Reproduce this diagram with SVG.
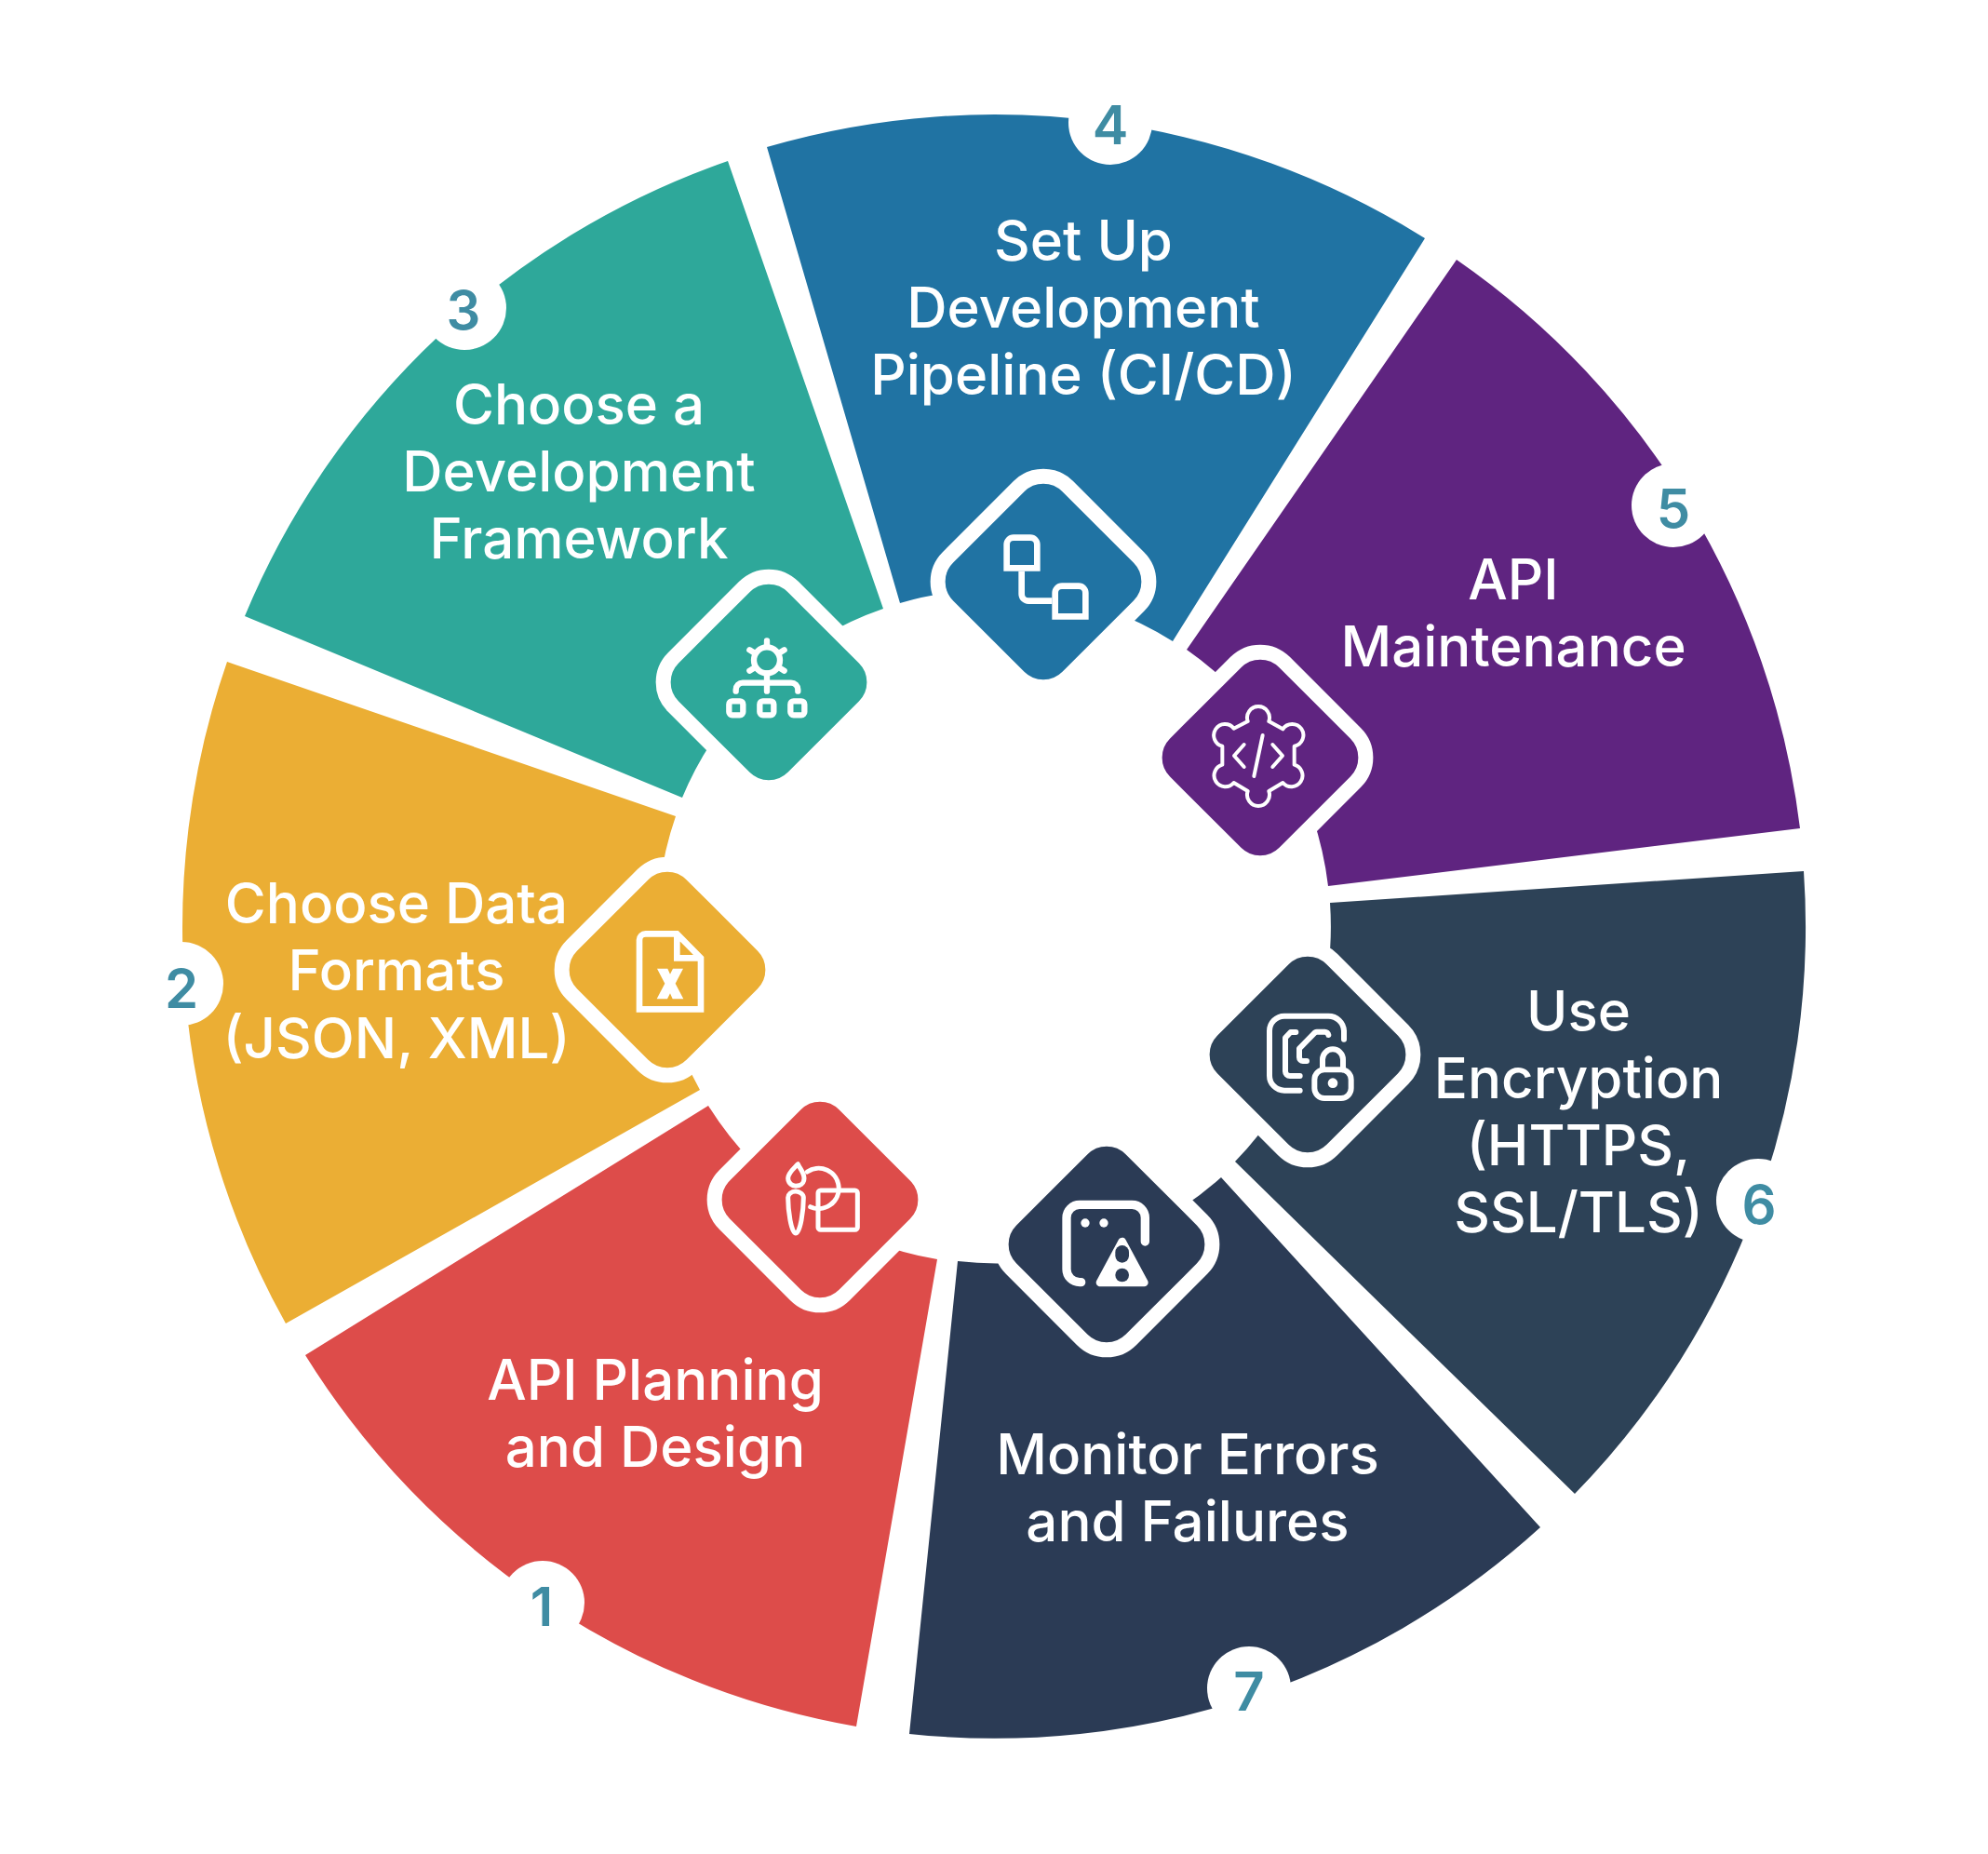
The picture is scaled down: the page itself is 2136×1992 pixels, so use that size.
<svg xmlns="http://www.w3.org/2000/svg" width="2136" height="1992" viewBox="0 0 2136 1992">
<style>
.lbl{font-family:Inter,"Open Sans","Liberation Sans",sans-serif;font-size:60px;font-weight:450;fill:#fff;text-anchor:middle}
.ctr{font-size:62px}
.num{font-family:Inter,"Open Sans","Liberation Sans",sans-serif;font-size:58px;font-weight:600;fill:#3F8CA3;text-anchor:middle}
.badge{fill:#fff}
.dia{stroke:#fff;stroke-width:16}
.ic{fill:none;stroke:#fff;stroke-linecap:round;stroke-linejoin:round}
</style>
<defs><rect id="d" x="-91" y="-91" width="182" height="182" rx="37" transform="rotate(45)"/></defs>
<rect width="2136" height="1992" fill="#fff"/>
<g id="connectors"/>
<g id="center">
<text class="lbl ctr" x="1085" y="945">API</text>
<text class="lbl ctr" x="1085" y="1023">Development</text>
</g>
<g id="node-1">
<path d="M328 1456A872 872 0 0 0 920 1855L1007 1353A361 361 0 0 1 761 1188Z" fill="#DD4C4A"/>
<use href="#d" x="881" y="1289" fill="#DD4C4A" class="dia"/>
<g transform="translate(740 1160) scale(.33333)" class="ic" stroke-width="15">
<path d="M352 272C340 285 320 300 320 318C320 335 335 343 345 343C358 343 372 335 372 318C372 300 360 290 352 272Z"/>
<path d="M345 360C330 360 320 370 320 380C320 420 330 495 345 495C360 495 370 420 370 380C370 370 358 360 345 360Z"/>
<path d="M382 297A65 65 0 1 1 392 410"/>
<rect x="417" y="357" width="127" height="127" rx="8"/>
</g>
<circle class="badge" cx="583" cy="1722" r="45"/>
<text class="num" x="582" y="1747">1</text>
<text class="lbl" x="704" y="1504">API Planning</text>
<text class="lbl" x="704" y="1576">and Design</text>
</g>
<g id="node-2">
<path d="M244 711A872 872 0 0 0 307 1422L752 1171A361 361 0 0 1 726 877Z" fill="#EBAE34"/>
<use href="#d" x="717" y="1042" fill="#EBAE34" class="dia"/>
<g transform="translate(580 900) scale(.33333)">
<path d="M321 553V330A20 20 0 0 1 341 310H442L519 388V553ZM442 310V388H519" fill="none" stroke="#fff" stroke-width="20"/>
<path d="M378 422H412L420 440L429 422H462L437 470L463 520H428L420 502L411 520H377L403 470Z" fill="#fff"/>
</g>
<circle class="badge" cx="195" cy="1057" r="45"/>
<text class="num" x="195" y="1083">2</text>
<text class="lbl" x="426" y="992">Choose Data</text>
<text class="lbl" x="426" y="1064">Formats</text>
<text class="lbl" x="426" y="1137">(JSON, XML)</text>
</g>
<g id="node-3">
<path d="M263 662A872 872 0 0 1 782 173L949 654A361 361 0 0 0 733 857Z" fill="#2EA89A"/>
<use href="#d" x="826" y="733" fill="#2EA89A" class="dia"/>
<g transform="translate(680 590) scale(.33333)" class="ic" stroke-width="19">
<circle cx="432" cy="358" r="42"/>
<path d="M432 295V310M376 325L388 332M488 325L476 332M376 392L388 385M488 392L476 385M432 400V458M332 458V453A22 22 0 0 1 354 431H510A22 22 0 0 1 532 453V458"/>
<rect x="310" y="490" width="45" height="45" rx="10"/>
<rect x="409" y="490" width="45" height="45" rx="10"/>
<rect x="508" y="490" width="45" height="45" rx="10"/>
</g>
<circle class="badge" cx="499" cy="331" r="45"/>
<text class="num" x="498" y="354">3</text>
<text class="lbl" x="622" y="456">Choose a</text>
<text class="lbl" x="622" y="528">Development</text>
<text class="lbl" x="622" y="600">Framework</text>
</g>
<g id="node-4">
<path d="M824 158A872 872 0 0 1 1531 256L1260 689A361 361 0 0 0 967 648Z" fill="#2073A3"/>
<use href="#d" x="1121" y="625" fill="#2073A3" class="dia"/>
<g transform="translate(980 490) scale(.33333)" class="ic" stroke-width="20">
<path d="M305 361V285A22 22 0 0 1 327 263H381A22 22 0 0 1 403 285V361Z" stroke-linejoin="miter"/>
<path d="M353 371V445A22 22 0 0 0 375 467H451" stroke-linecap="butt"/>
<path d="M461 517V441A22 22 0 0 1 483 419H537A22 22 0 0 1 559 441V517Z" stroke-linejoin="miter"/>
</g>
<circle class="badge" cx="1193" cy="132" r="45"/>
<text class="num" x="1193" y="155">4</text>
<text class="lbl" x="1164" y="280">Set Up</text>
<text class="lbl" x="1164" y="352">Development</text>
<text class="lbl" x="1164" y="424">Pipeline (CI/CD)</text>
</g>
<g id="node-5">
<path d="M1565 279A872 872 0 0 1 1934 890L1427 952A361 361 0 0 0 1275 698Z" fill="#5F2480"/>
<use href="#d" x="1354" y="814" fill="#5F2480" class="dia"/>
<g transform="translate(1220 680) scale(.33333)" class="ic" stroke-width="12">
<path d="M362 285A36 36 0 1 1 430 285L475 310A36 36 0 1 1 512 365V425A36 36 0 1 1 475 483L430 510A36 36 0 1 1 362 510L317 483A36 36 0 1 1 280 425V365A36 36 0 1 1 317 308Z"/>
<path d="M350 360L318 396L350 432M442 360L474 396L442 432M410 330L382 462"/>
</g>
<circle class="badge" cx="1798" cy="543" r="45"/>
<text class="num" x="1798" y="567">5</text>
<text class="lbl" x="1626" y="644">API</text>
<text class="lbl" x="1626" y="716">Maintenance</text>
</g>
<g id="node-6">
<path d="M1938 936A872 872 0 0 1 1692 1605L1327 1248A361 361 0 0 0 1429 970Z" fill="#2D4257"/>
<use href="#d" x="1405" y="1133" fill="#2D4257" class="dia"/>
<g transform="translate(1280 1000) scale(.33333)" class="ic" stroke-width="18">
<path d="M350 515H300A48 48 0 0 1 252 467V323A48 48 0 0 1 300 275H442A50 50 0 0 1 492 323V350"/>
<path d="M350 468H318A15 15 0 0 1 303 453V345L320 327H337"/>
<path d="M372 420H360A12 12 0 0 1 348 408V380L395 332A12 12 0 0 1 405 326H430A12 12 0 0 1 442 336"/>
<rect x="397" y="448" width="118" height="92" rx="32"/>
<path d="M423 448V415A33 33 0 0 1 489 415V448"/>
<circle cx="456" cy="491" r="16" fill="#fff" stroke="none"/>
</g>
<circle class="badge" cx="1889" cy="1290" r="45"/>
<text class="num" x="1890" y="1315">6</text>
<text class="lbl" x="1696" y="1108">Use</text>
<text class="lbl" x="1696" y="1180">Encryption</text>
<text class="lbl" x="1696" y="1252">(HTTPS,</text>
<text class="lbl" x="1696" y="1324">SSL/TLS)</text>
</g>
<g id="node-7">
<path d="M1655 1641A872 872 0 0 1 977 1863L1029 1355A361 361 0 0 0 1312 1265Z" fill="#2B3B55"/>
<use href="#d" x="1189" y="1337" fill="#2B3B55" class="dia"/>
<g transform="translate(1060 1210) scale(.33333)">
<path class="ic" stroke-width="28" d="M305 503H300A42 42 0 0 1 258 461V295A42 42 0 0 1 300 253H469A42 42 0 0 1 511 295V372"/>
<circle cx="318" cy="312" r="14" fill="#fff"/>
<circle cx="378" cy="312" r="14" fill="#fff"/>
<path d="M437 372L366 504H508Z" fill="#fff" stroke="#fff" stroke-width="26" stroke-linejoin="round"/>
<path d="M437 406V418" stroke="#2B3B55" stroke-width="44" stroke-linecap="round"/>
<circle cx="437" cy="480" r="22" fill="#2B3B55"/>
</g>
<circle class="badge" cx="1342" cy="1814" r="45"/>
<text class="num" x="1342" y="1838">7</text>
<text class="lbl" x="1276" y="1584">Monitor Errors</text>
<text class="lbl" x="1276" y="1656">and Failures</text>
</g>
</svg>
